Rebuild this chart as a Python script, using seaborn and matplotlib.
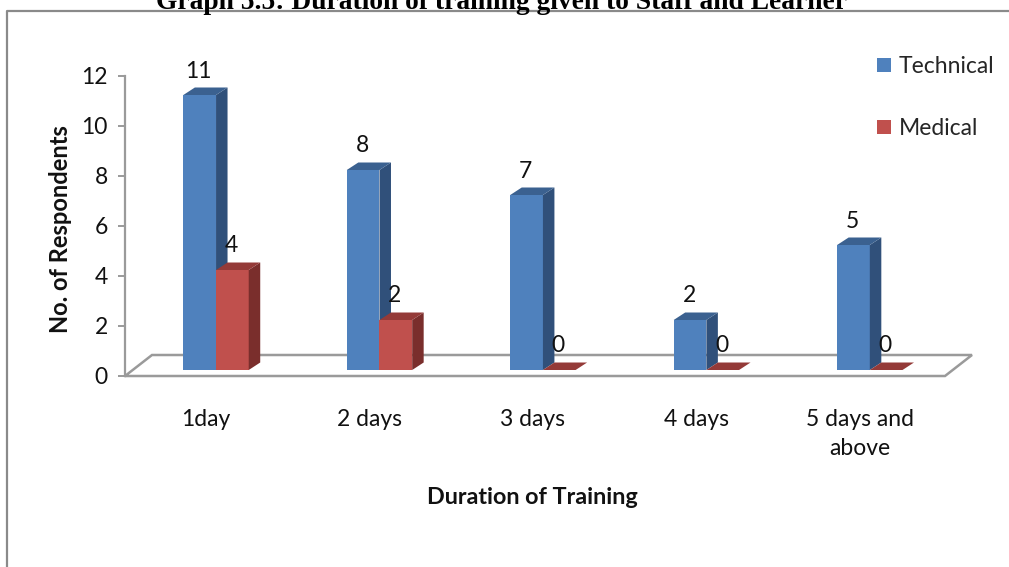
import matplotlib
matplotlib.use("Agg")
import matplotlib.pyplot as plt
import seaborn as sns
import pandas as pd
from matplotlib.patches import Polygon, Rectangle
from matplotlib.lines import Line2D
from matplotlib.transforms import IdentityTransform, offset_copy, ScaledTranslation

# ---- data -------------------------------------------------------------
durations = ["1day", "2 days", "3 days", "4 days", "5 days and\nabove"]
technical = [11, 8, 7, 2, 5]
medical = [4, 2, 0, 0, 0]
series = ["Technical", "Medical"]
y_ticks = [0, 2, 4, 6, 8, 10, 12]

# ---- styling ----------------------------------------------------------
W, H = 1009, 567
FONT = "Lato"
FS = 16.5
front_cols = ["#4F81BD", "#C0504D"]
side_cols = ["#30507A", "#7A2E2C"]
top_cols = ["#3B6190", "#943A38"]
grid_col = "#9A9A9A"
DEPTH = (11.5, 7.5)      # bar depth offset in pixels (right, up)
LIFT = 6                 # bars stand a little behind the front edge of the floor
FLOOR = (27, 21)         # floor depth offset in pixels

sns.set_theme(style="white")
plt.rcParams["font.family"] = [FONT, "DejaVu Sans"]

fig = plt.figure(figsize=(W / 100, H / 100), dpi=100)


def px_box(left, top, right, bottom):
    return [left / W, 1 - bottom / H, (right - left) / W, (bottom - top) / H]


ax = fig.add_axes(px_box(125, 76, 945, 376))

df = pd.DataFrame({
    "Duration": durations * 2,
    "Respondents": technical + medical,
    "Series": [series[0]] * len(durations) + [series[1]] * len(durations),
})

sns.barplot(data=df, x="Duration", y="Respondents", hue="Series",
            hue_order=series, order=durations, palette=front_cols,
            saturation=1, width=0.4, linewidth=0, legend=False, ax=ax)

ax.set_xlim(-0.557, 4.46)
ax.set_ylim(0, 12)
ax.set_yticks(y_ticks)
ax.set_xlabel("")
ax.set_ylabel("")

for side in ["top", "right", "bottom"]:
    ax.spines[side].set_visible(False)
ax.spines["left"].set_color(grid_col)
ax.spines["left"].set_linewidth(1.6)
ax.tick_params(axis="y", which="major", left=True, length=5, width=1.4,
               color=grid_col, labelsize=FS, pad=7.5, labelcolor="#111111")
ax.tick_params(axis="x", bottom=False, labelsize=FS, pad=18,
               labelcolor="#111111")
shift_left = ScaledTranslation(-10 / 100, 0, fig.dpi_scale_trans)
for lbl in ax.get_xticklabels():
    lbl.set_linespacing(1.45)
    lbl.set_transform(lbl.get_transform() + shift_left)

# ---- floor (drawn in pixel space) -------------------------------------
to_disp = ax.transData.transform
x0, y0 = to_disp((-0.557, 0))
x1, _ = to_disp((4.46, 0))
fx, fy = FLOOR
floor = [(x0, y0), (x1, y0), (x1 + fx, y0 + fy), (x0 + fx, y0 + fy), (x0, y0)]
fxs, fys = zip(*floor)
ax.add_line(Line2D(fxs, fys, transform=IdentityTransform(), color=grid_col,
                   lw=1.8, zorder=1, clip_on=False, solid_joinstyle="miter"))

# ---- 3D faces for every bar -------------------------------------------
dx, dy = DEPTH
for s_idx, container in enumerate(ax.containers):
    z = 3 + s_idx
    for bar in container:
        bx, by = bar.get_x(), bar.get_y()
        bw, bh = bar.get_width(), bar.get_height()
        bar.set_transform(offset_copy(ax.transData, fig=fig, x=0, y=LIFT,
                                      units="dots"))
        bar.set_zorder(z)
        bar.set_clip_on(False)
        (lx, ly) = to_disp((bx, by))
        (rx, ty) = to_disp((bx + bw, by + bh))
        ly += LIFT
        ty += LIFT
        side = Polygon([(rx, ly), (rx + dx, ly + dy), (rx + dx, ty + dy), (rx, ty)],
                       closed=True, transform=IdentityTransform(),
                       facecolor=side_cols[s_idx], edgecolor="none",
                       zorder=z, clip_on=False)
        top = Polygon([(lx, ty), (rx, ty), (rx + dx, ty + dy), (lx + dx, ty + dy)],
                      closed=True, transform=IdentityTransform(),
                      facecolor=top_cols[s_idx], edgecolor="none",
                      zorder=z, clip_on=False)
        ax.add_patch(side)
        ax.add_patch(top)
        ax.text(bx + bw / 2, by + bh, f"{int(round(bh))}",
                transform=offset_copy(ax.transData, fig=fig, x=-1, y=LIFT + 24,
                                      units="dots"),
                ha="center", va="center", fontsize=FS, color="#111111",
                zorder=10)

# ---- titles -----------------------------------------------------------
fig.text(502 / W, 1 - 9 / H,
         "Graph 5.5: Duration of training given to Staff and Learner",
         ha="center", va="baseline", fontsize=19.8, fontweight="bold",
         family="Liberation Serif", color="#000000")
fig.text(61 / W, 1 - 229 / H, "No. of Respondents", rotation=90,
         ha="center", va="center", fontsize=17, fontweight="bold",
         color="#111111")
fig.text(532 / W, 1 - 498 / H, "Duration of Training",
         ha="center", va="center", fontsize=16.8, fontweight="bold",
         color="#111111")

# ---- legend -----------------------------------------------------------
handles = [Rectangle((0, 0), 1, 1, facecolor=c, edgecolor="none")
           for c in front_cols]
fig.legend(handles, series, loc="upper left",
           bbox_to_anchor=(877 / W, 1 - 56 / H), frameon=False,
           fontsize=FS, handlelength=0.6, handleheight=0.6,
           handletextpad=0.35, labelspacing=1.8, borderaxespad=0,
           borderpad=0)

# ---- outer frame ------------------------------------------------------
frame = Line2D([7 / W, 7 / W, 1.0], [0.0, 1 - 11 / H, 1 - 11 / H],
               transform=fig.transFigure, color="#8A8A8A", lw=1.6)
fig.add_artist(frame)

fig.savefig("out.png", dpi=100, facecolor="white")
